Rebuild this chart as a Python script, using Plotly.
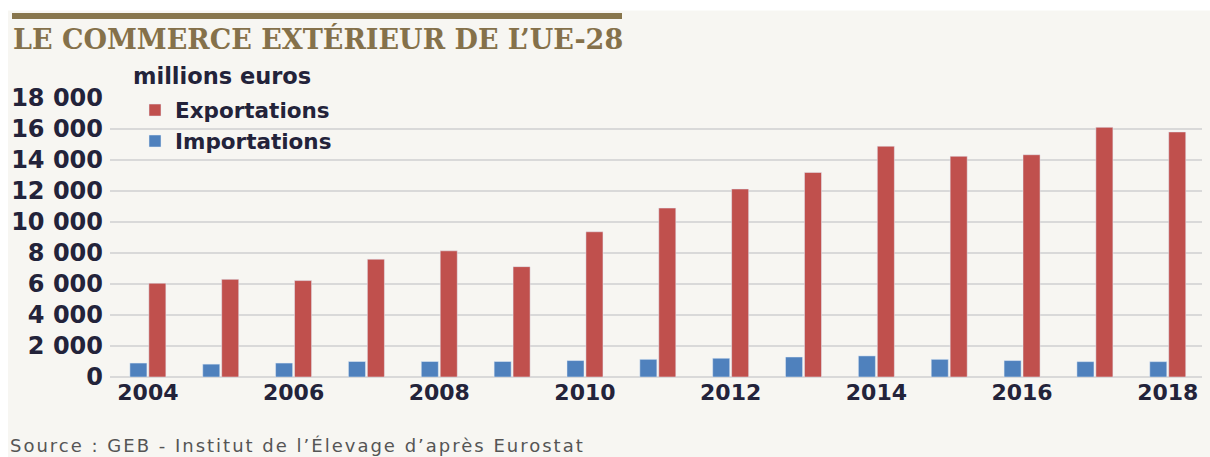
import plotly.graph_objects as go

years = list(range(2004, 2019))
exportations = [6050, 6300, 6220, 7600, 8140, 7120, 9370, 10900, 12130, 13200, 14890, 14240, 14340, 16110, 15810]
importations = [900, 830, 900, 1000, 1000, 1000, 1060, 1140, 1210, 1290, 1360, 1140, 1060, 990, 990]
year_ticks = list(range(2004, 2019, 2))
y_ticks = list(range(0, 18001, 2000))

TITLE = "LE COMMERCE EXTÉRIEUR DE L’UE-28"
UNIT = "millions euros"
SOURCE = "Source : GEB - Institut de l’Élevage d’après Eurostat"

W, H = 1210, 457
PL, PR, PT, PB = 110, 1202, 98.4, 376.7  # plot area in window pixels
L, R, T, B = PL, W - PR, PT, H - PB

def px(xp):
    return (xp - PL) / (PR - PL)

def py(yp):
    return (PB - yp) / (PB - PT)

CREAM = "#f7f6f2"
DARK = "#23233a"

fig = go.Figure()
fig.add_trace(go.Bar(x=years, y=importations, name="Importations", marker_color="#4f81bd"))
fig.add_trace(go.Bar(x=years, y=exportations, name="Exportations", marker_color="#c0504d"))

fig.update_layout(
    width=W, height=H,
    margin=dict(l=L, r=R, t=T, b=B),
    paper_bgcolor=CREAM,
    plot_bgcolor=CREAM,
    barmode="group", bargap=0.48, bargroupgap=0.1,
    separators=", ",
    showlegend=True,
    legend=dict(
        x=px(135), y=py(90), xanchor="left", yanchor="top",
        traceorder="reversed", bgcolor="rgba(0,0,0,0)",
        font=dict(family="DejaVu Sans", size=21.5, color=DARK, weight="bold"),
        itemclick=False, itemdoubleclick=False,
    ),
    xaxis=dict(
        range=[2003.48, 2018.47], tickvals=year_ticks, ticktext=[str(v) for v in year_ticks],
        showgrid=False, zeroline=False, showline=False, ticks="",
        tickfont=dict(family="DejaVu Sans", size=22, color=DARK, weight="bold"),
    ),
    yaxis=dict(
        range=[0, 18000], tickvals=y_ticks, tickformat=",d",
        showgrid=True, gridcolor="#d9d9d9", gridwidth=2,
        zeroline=True, zerolinecolor="#d9d9d9", zerolinewidth=2,
        showline=False, ticks="", ticklabelstandoff=6,
        tickfont=dict(family="DejaVu Sans", size=24, color=DARK, weight="bold"),
    ),
    shapes=[
        dict(type="rect", xref="paper", yref="paper", x0=px(-2), x1=px(1215), y0=py(11), y1=py(-2),
             fillcolor="white", line_width=0, layer="below"),
        dict(type="rect", xref="paper", yref="paper", x0=px(-2), x1=px(8), y0=py(460), y1=py(-2),
             fillcolor="white", line_width=0, layer="below"),
        dict(type="rect", xref="paper", yref="paper", x0=px(12), x1=px(622), y0=py(19.5), y1=py(13.5),
             fillcolor="#87754b", line_width=0, layer="above"),
    ],
    annotations=[
        dict(text=TITLE, xref="paper", yref="paper", x=px(11), y=py(40), xanchor="left", yanchor="middle",
             showarrow=False, font=dict(family="DejaVu Serif", size=27, color="#85714a", weight="bold")),
        dict(text=UNIT, xref="paper", yref="paper", x=px(131), y=py(76), xanchor="left", yanchor="middle",
             showarrow=False, font=dict(family="DejaVu Sans", size=22.5, color=DARK, weight="bold")),
        dict(text='<span style="letter-spacing:2px">' + SOURCE + '</span>', xref="paper", yref="paper",
             x=px(8), y=py(445), xanchor="left", yanchor="middle",
             showarrow=False, font=dict(family="DejaVu Sans", size=18, color="#555555")),
    ],
)

fig.write_html(
    "out.html",
    config={"displayModeBar": False},
    post_script="document.body.style.margin='0';document.body.style.overflow='hidden';",
)
